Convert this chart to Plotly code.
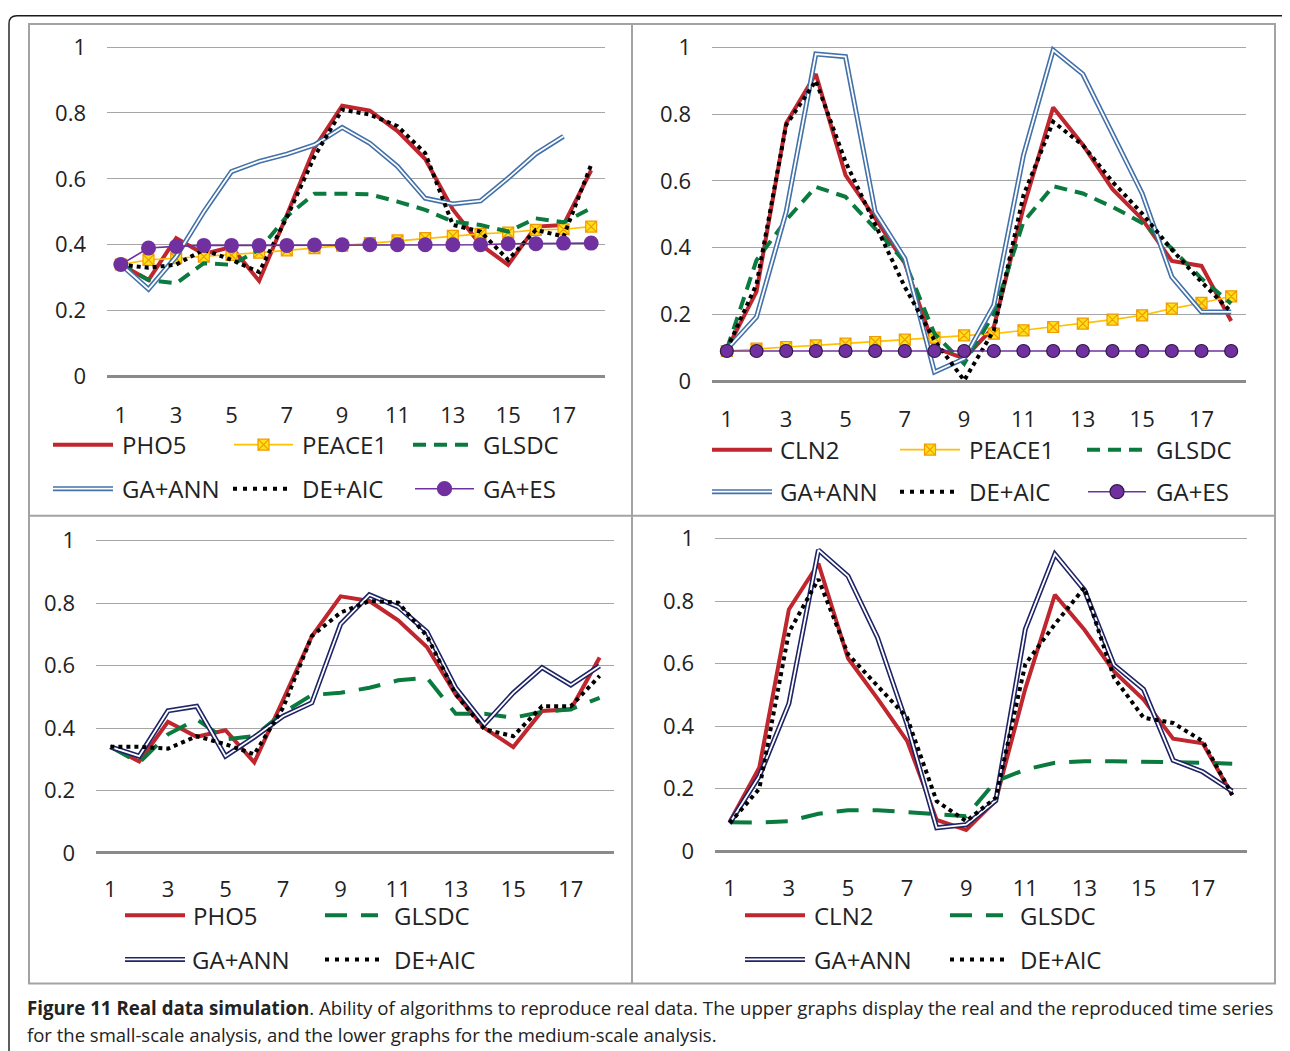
import plotly.graph_objects as go

# ---- data ----
TIME = [1, 2, 3, 4, 5, 6, 7, 8, 9, 10, 11, 12, 13, 14, 15, 16, 17, 18]
X_TICKS = [1, 3, 5, 7, 9, 11, 13, 15, 17]
Y_TICKS = [0, 0.2, 0.4, 0.6, 0.8, 1]
Y_TICK_TEXT = ["0", "0.2", "0.4", "0.6", "0.8", "1"]

PHO5 = [0.34, 0.293, 0.42, 0.372, 0.393, 0.29, 0.49, 0.694, 0.822, 0.807,
        0.745, 0.66, 0.507, 0.40, 0.339, 0.455, 0.46, 0.626]
CLN2 = [0.094, 0.268, 0.773, 0.92, 0.617, 0.488, 0.353, 0.10, 0.068, 0.162,
        0.52, 0.82, 0.708, 0.575, 0.485, 0.36, 0.345, 0.18]

# small-scale, PHO5
S_PHO5_PEACE1 = [0.34, 0.354, 0.359, 0.364, 0.369, 0.376, 0.383, 0.39, 0.397, 0.405,
                 0.413, 0.42, 0.427, 0.433, 0.437, 0.445, 0.447, 0.455]
S_PHO5_GLSDC = [0.34, 0.293, 0.283, 0.344, 0.339, 0.385, 0.486, 0.555, 0.555, 0.553,
                0.531, 0.506, 0.47, 0.46, 0.44, 0.48, 0.468, 0.511]
S_PHO5_GA_ANN = [0.34, 0.265, 0.364, 0.50, 0.622, 0.653, 0.675, 0.703, 0.756, 0.708,
                 0.638, 0.541, 0.524, 0.533, 0.602, 0.676, 0.729, None]
S_PHO5_DE_AIC = [0.34, 0.33, 0.34, 0.385, 0.354, 0.317, 0.483, 0.668, 0.81, 0.795,
                 0.76, 0.678, 0.46, 0.44, 0.354, 0.445, 0.425, 0.643]
S_PHO5_GA_ES = [0.34, 0.39, 0.395, 0.398, 0.398, 0.398, 0.398, 0.399, 0.40, 0.40,
                0.40, 0.40, 0.40, 0.40, 0.403, 0.403, 0.405, 0.405]

# small-scale, CLN2
S_CLN2_PEACE1 = [0.09, 0.097, 0.102, 0.107, 0.112, 0.117, 0.124, 0.13, 0.137, 0.142,
                 0.152, 0.162, 0.172, 0.184, 0.197, 0.217, 0.234, 0.254]
S_CLN2_GLSDC = [0.095, 0.362, 0.482, 0.582, 0.552, 0.457, 0.357, 0.142, 0.052, 0.202,
                0.477, 0.584, 0.562, 0.522, 0.474, 0.397, 0.307, 0.232]
S_CLN2_GA_ANN = [0.095, 0.192, 0.507, 0.98, 0.972, 0.507, 0.367, 0.027, 0.067, 0.227,
                 0.677, 0.992, 0.92, 0.742, 0.562, 0.312, 0.207, 0.207]
S_CLN2_DE_AIC = [0.095, 0.29, 0.767, 0.90, 0.657, 0.467, 0.282, 0.122, 0.002, 0.152,
                 0.557, 0.777, 0.707, 0.597, 0.502, 0.394, 0.297, 0.207]
S_CLN2_GA_ES = [0.09, 0.09, 0.09, 0.09, 0.09, 0.09, 0.09, 0.09, 0.09, 0.09,
                0.09, 0.09, 0.09, 0.09, 0.09, 0.09, 0.09, 0.09]

# medium-scale, PHO5
M_PHO5_GLSDC = [0.34, 0.289, 0.38, 0.428, 0.364, 0.374, 0.449, 0.506, 0.513, 0.529,
                0.553, 0.561, 0.446, 0.446, 0.433, 0.452, 0.46, 0.497]
M_PHO5_GA_ANN = [0.34, 0.31, 0.455, 0.47, 0.31, 0.371, 0.438, 0.481, 0.733, 0.827,
                 0.788, 0.708, 0.529, 0.412, 0.513, 0.594, 0.538, 0.599]
M_PHO5_DE_AIC = [0.34, 0.34, 0.334, 0.374, 0.348, 0.316, 0.465, 0.695, 0.77, 0.807,
                 0.802, 0.695, 0.508, 0.396, 0.374, 0.47, 0.47, 0.567]

# medium-scale, CLN2
M_CLN2_GLSDC = [0.093, 0.092, 0.096, 0.12, 0.131, 0.131, 0.125, 0.117, 0.112, 0.224,
                0.261, 0.283, 0.288, 0.288, 0.287, 0.285, 0.283, 0.28]
M_CLN2_GA_ANN = [0.09, 0.24, 0.472, 0.963, 0.88, 0.683, 0.405, 0.075, 0.085, 0.162,
                 0.71, 0.95, 0.835, 0.596, 0.518, 0.291, 0.254, 0.192]
M_CLN2_DE_AIC = [0.09, 0.2, 0.70, 0.87, 0.63, 0.528, 0.427, 0.16, 0.096, 0.171,
                 0.598, 0.726, 0.843, 0.555, 0.427, 0.41, 0.352, 0.18]

# ---- styling ----
# positions below are given in window pixels; the figure sits a little inside
# the window (page margin), so fx/fy convert window pixels to figure pixels
W, H = 1282, 1043
X0, Y0, YS = 8, 15, 0.988
FONT = "Open Sans"
TEXT = "#222222"
RED = "#C0262D"
GOLD_LINE = "#FFC000"
GOLD_FILL = "#FFE01A"
GOLD_EDGE = "#F29B00"
GREEN = "#0A7A3E"
BLUE_TOP = "#4371A9"
BLUE_BOT = "#1E2465"
PURPLE = "#7030A0"
GRID = "#A6A6A6"
FRAME = "#A3A3A3"
DOTS = "4px,4px"
DOTS_KEY = "4px,6px"
DASH_TOP = "13px,8px"
DASH_BOT = "22px,14px"


def fx(x):
    return x - X0


def fy(y):
    return (y - Y0) / YS


def px(x):
    return fx(x) / W


def py(y):
    return 1 - fy(y) / H


def line_trace(ax, y, color, width, dash="solid", marker=None):
    return go.Scatter(
        x=TIME, y=y,
        mode="lines+markers" if marker else "lines",
        line=dict(color=color, width=width, dash=dash),
        marker=marker,
        xaxis="x" + ax, yaxis="y" + ax,
        showlegend=False, hoverinfo="skip",
    )


def double_line(ax, y, color):
    return [line_trace(ax, y, color, 5), line_trace(ax, y, "white", 1.8)]


fig = go.Figure()

# top left: small-scale PHO5
fig.add_trace(line_trace("", PHO5, RED, 4))
fig.add_trace(line_trace("", S_PHO5_PEACE1, GOLD_LINE, 1.6, marker=dict(
    symbol="square-x", size=11, color=GOLD_FILL, line=dict(color=GOLD_EDGE, width=1.2))))
fig.add_trace(line_trace("", S_PHO5_GLSDC, GREEN, 4, DASH_TOP))
fig.add_traces(double_line("", S_PHO5_GA_ANN, BLUE_TOP))
fig.add_trace(line_trace("", S_PHO5_DE_AIC, "black", 4, DOTS))
fig.add_trace(line_trace("", S_PHO5_GA_ES, PURPLE, 1.6, marker=dict(
    symbol="circle", size=15, color=PURPLE, line=dict(color=PURPLE, width=0))))

# top right: small-scale CLN2
fig.add_trace(line_trace("2", CLN2, RED, 4))
fig.add_trace(line_trace("2", S_CLN2_PEACE1, GOLD_LINE, 1.6, marker=dict(
    symbol="square-x", size=11, color=GOLD_FILL, line=dict(color=GOLD_EDGE, width=1.2))))
fig.add_trace(line_trace("2", S_CLN2_GLSDC, GREEN, 4, DASH_TOP))
fig.add_traces(double_line("2", S_CLN2_GA_ANN, BLUE_TOP))
fig.add_trace(line_trace("2", S_CLN2_DE_AIC, "black", 4, DOTS))
fig.add_trace(line_trace("2", S_CLN2_GA_ES, PURPLE, 1.6, marker=dict(
    symbol="circle", size=13, color=PURPLE, line=dict(color="#2E1A47", width=1.2))))

# bottom left: medium-scale PHO5
fig.add_trace(line_trace("3", PHO5, RED, 4))
fig.add_trace(line_trace("3", M_PHO5_GLSDC, GREEN, 4, DASH_BOT))
fig.add_traces(double_line("3", M_PHO5_GA_ANN, BLUE_BOT))
fig.add_trace(line_trace("3", M_PHO5_DE_AIC, "black", 4, DOTS))

# bottom right: medium-scale CLN2
fig.add_trace(line_trace("4", CLN2, RED, 4))
fig.add_trace(line_trace("4", M_CLN2_GLSDC, GREEN, 4, DASH_BOT))
fig.add_traces(double_line("4", M_CLN2_GA_ANN, BLUE_BOT))
fig.add_trace(line_trace("4", M_CLN2_DE_AIC, "black", 4, DOTS))

# panel geometry in window pixels: plot left/right, y of 0 and 1, x-label centre
PANELS = [
    ("", 107, 605, 376, 47, 416),
    ("2", 712, 1246, 380.5, 47.3, 419),
    ("3", 96, 614, 851.7, 540, 889),
    ("4", 715, 1247, 850, 537.7, 887),
]
LO, HI = -0.03, 1.03

layout_axes = {}
for ax, left, right, y0, y1, label_y in PANELS:
    scale = y0 - y1
    bottom = y0 - LO * scale
    top = y1 - (HI - 1) * scale
    layout_axes["xaxis" + ax] = dict(
        domain=[px(left), px(right)], range=[0.5, 18.5],
        anchor="y" + ax, tickvals=X_TICKS, showgrid=False, zeroline=False,
        showline=False, ticks="",
        ticklabelstandoff=int(round(max(0, fy(label_y) - fy(bottom) - 16))),
        tickfont=dict(family=FONT, size=22, color=TEXT), fixedrange=True,
    )
    layout_axes["yaxis" + ax] = dict(
        domain=[py(bottom), py(top)], range=[LO, HI],
        anchor="x" + ax, tickvals=Y_TICKS, ticktext=Y_TICK_TEXT,
        showgrid=True, gridcolor=GRID, gridwidth=1.3,
        zeroline=True, zerolinecolor="#8A8A8A", zerolinewidth=2.5,
        showline=False, ticks="", ticklabelstandoff=20,
        tickfont=dict(family=FONT, size=22, color=TEXT), fixedrange=True,
    )

shapes = []
annotations = []


def hline(x0, x1, y, color, width, dash="solid"):
    shapes.append(dict(type="line", xref="paper", yref="paper",
                       x0=px(x0), x1=px(x1), y0=py(y), y1=py(y),
                       line=dict(color=color, width=width, dash=dash)))


def legend_label(x, y, text):
    annotations.append(dict(text=text, x=px(x), y=py(y), xref="paper", yref="paper",
                            xanchor="left", yanchor="middle", showarrow=False,
                            font=dict(family=FONT, size=24, color=TEXT)))


def legend_entry(kind, x0, x1, y, label, xt, blue=BLUE_TOP, dash=DASH_TOP, ring=None):
    xc = (x0 + x1) / 2
    if kind == "real":
        hline(x0, x1, y, RED, 4)
    elif kind == "peace":
        hline(x0, x1, y, GOLD_LINE, 1.6)
        s = 5.5
        shapes.append(dict(type="rect", xref="paper", yref="paper",
                           x0=px(xc - s), x1=px(xc + s), y0=py(y + s), y1=py(y - s),
                           fillcolor=GOLD_FILL, line=dict(color=GOLD_EDGE, width=1.2)))
        for d in (-1, 1):
            shapes.append(dict(type="line", xref="paper", yref="paper",
                               x0=px(xc - s), x1=px(xc + s), y0=py(y - d * s), y1=py(y + d * s),
                               line=dict(color=GOLD_EDGE, width=1.2)))
    elif kind == "glsdc":
        hline(x0, x1, y, GREEN, 4, dash)
    elif kind == "ann":
        hline(x0, x1, y, blue, 5)
        hline(x0, x1, y, "white", 1.8)
    elif kind == "de":
        hline(x0, x1, y, "black", 4, DOTS_KEY)
    elif kind == "es":
        hline(x0, x1, y, PURPLE, 1.6)
        r = 7
        shapes.append(dict(type="circle", xref="paper", yref="paper",
                           x0=px(xc - r), x1=px(xc + r), y0=py(y + r), y1=py(y - r),
                           fillcolor=PURPLE, line=dict(color=ring or PURPLE, width=1.2)))
    legend_label(xt, y, label)


# legends
legend_entry("real", 53, 113, 444, "PHO5", 120)
legend_entry("peace", 234, 293, 444, "PEACE1", 300)
legend_entry("glsdc", 413, 475, 444, "GLSDC", 481)
legend_entry("ann", 53, 113, 488, "GA+ANN", 120)
legend_entry("de", 233, 293, 488, "DE+AIC", 300)
legend_entry("es", 415, 474, 488, "GA+ES", 481)

legend_entry("real", 712, 772, 449, "CLN2", 778)
legend_entry("peace", 900, 960, 449, "PEACE1", 967)
legend_entry("glsdc", 1087, 1147, 449, "GLSDC", 1154)
legend_entry("ann", 712, 772, 491, "GA+ANN", 778)
legend_entry("de", 900, 960, 491, "DE+AIC", 967)
legend_entry("es", 1088, 1146, 491, "GA+ES", 1154, ring="#2E1A47")

legend_entry("real", 125, 185, 914, "PHO5", 191)
legend_entry("glsdc", 325, 378, 914, "GLSDC", 392, dash=DASH_BOT)
legend_entry("ann", 125, 185, 958, "GA+ANN", 190, blue=BLUE_BOT)
legend_entry("de", 325, 385, 958, "DE+AIC", 392)

legend_entry("real", 745, 805, 914, "CLN2", 812)
legend_entry("glsdc", 950, 1003, 914, "GLSDC", 1018, dash=DASH_BOT)
legend_entry("ann", 745, 805, 958, "GA+ANN", 812, blue=BLUE_BOT)
legend_entry("de", 950, 1010, 958, "DE+AIC", 1018)

# panel frame and dividers
shapes.append(dict(type="rect", xref="paper", yref="paper",
                   x0=px(29), x1=px(1275), y0=py(982), y1=py(24),
                   line=dict(color=FRAME, width=2)))
shapes.append(dict(type="line", xref="paper", yref="paper",
                   x0=px(632), x1=px(632), y0=py(982), y1=py(24),
                   line=dict(color=FRAME, width=2)))
shapes.append(dict(type="line", xref="paper", yref="paper",
                   x0=px(29), x1=px(1275), y0=py(515), y1=py(515),
                   line=dict(color=FRAME, width=2)))

# outer rounded border of the figure box (top edge kept inside the figure)
yt = 1 - 0.8 / H
xr = 1 - 1.0 / W
outer = (f"M {px(9)},{py(1080)} L {px(9)},{yt - 8 / H} Q {px(9)},{yt} {px(17)},{yt} "
         f"L {xr - 8 / W},{yt} Q {xr},{yt} {xr},{yt - 8 / H} L {xr},{py(1080)}")
shapes.append(dict(type="path", xref="paper", yref="paper", path=outer,
                   line=dict(color="#1A1A1A", width=1.4)))

# caption
annotations.append(dict(
    text="<b>Figure 11 Real data simulation</b>. Ability of algorithms to reproduce real data. "
         "The upper graphs display the real and the reproduced time series",
    x=px(25), y=py(1006), xref="paper", yref="paper", xanchor="left", yanchor="middle",
    showarrow=False, font=dict(family=FONT, size=18.7, color=TEXT)))
annotations.append(dict(
    text="for the small-scale analysis, and the lower graphs for the medium-scale analysis.",
    x=px(25), y=py(1033), xref="paper", yref="paper", xanchor="left", yanchor="middle",
    showarrow=False, font=dict(family=FONT, size=18.5, color=TEXT)))

fig.update_layout(
    width=W, height=H,
    margin=dict(l=0, r=0, t=0, b=0),
    paper_bgcolor="white", plot_bgcolor="white",
    showlegend=False,
    shapes=shapes, annotations=annotations,
    font=dict(family=FONT, color=TEXT),
    **layout_axes,
)

fig.write_html("out.html")
